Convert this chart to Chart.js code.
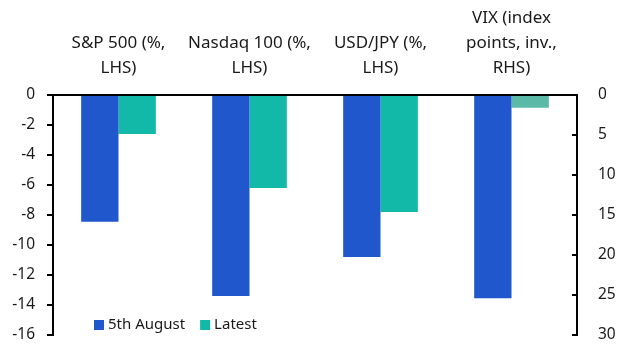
<!DOCTYPE html>
<html><head><meta charset="utf-8">
<script src="https://cdn.jsdelivr.net/npm/chart.js@4/dist/chart.umd.min.js"></script>
<style>html,body{margin:0;padding:0;background:#fff}</style>
</head><body>
<canvas id="c" width="629" height="355"></canvas>
<script>
const categories = [
  ['S&P 500 (%,', 'LHS)'],
  ['Nasdaq 100 (%,', 'LHS)'],
  ['USD/JPY (%,', 'LHS)'],
  ['VIX (index', 'points, inv.,', 'RHS)']
];
const seriesNames = ['5th August', 'Latest'];
const aug5Lhs   = [-8.45, -13.4, -10.8, null];
const latestLhs = [-2.6, -6.2, -7.8, null];
const vixAug5   = [null, null, null, 25.4];
const vixLatest = [null, null, null, 1.6];
const leftTicks = [0, -2, -4, -6, -8, -10, -12, -14, -16];
const rightTicks = [0, 5, 10, 15, 20, 25, 30];

const BLUE = '#2157cd';
const TEAL = '#12b8a8';
const TEAL2 = '#5bb9a8';
const FONT = '"Noto Sans", "Open Sans", sans-serif';
const TXT = '#1a1a1a';

const legendPlugin = {
  id: 'inLegend',
  afterDraw(chart) {
    const ctx = chart.ctx, ca = chart.chartArea;
    ctx.save();
    ctx.font = '15px ' + FONT;
    ctx.textBaseline = 'middle';
    let x = ca.left + 41;
    const y = ca.bottom - 10;
    [0, 1].forEach(i => {
      const ds = chart.data.datasets[i];
      ctx.fillStyle = ds.backgroundColor;
      ctx.fillRect(x, y - 5, 10, 10);
      x += 14;
      ctx.fillStyle = TXT;
      ctx.fillText(ds.label, x, y);
      x += ctx.measureText(ds.label).width + 15;
    });
    ctx.restore();
  }
};

function fixPad(s, w) {
  s.width = w;
  s.paddingTop = 0;
  s.paddingBottom = 0;
}

new Chart(document.getElementById('c'), {
  type: 'bar',
  data: {
    labels: categories,
    datasets: [
      { label: seriesNames[0], data: aug5Lhs, backgroundColor: BLUE, yAxisID: 'y' },
      { label: seriesNames[1], data: latestLhs, backgroundColor: TEAL, yAxisID: 'y' },
      { label: seriesNames[0] + ' (VIX)', data: vixAug5, backgroundColor: BLUE, yAxisID: 'y1' },
      { label: seriesNames[1] + ' (VIX)', data: vixLatest, backgroundColor: TEAL2, yAxisID: 'y1' }
    ]
  },
  options: {
    responsive: false,
    animation: false,
    devicePixelRatio: 1,
    skipNull: true,
    categoryPercentage: 0.57,
    barPercentage: 1.0,
    layout: { padding: { left: 0, right: 0, top: 0, bottom: 20 } },
    plugins: { legend: { display: false }, tooltip: { enabled: false } },
    scales: {
      x: {
        position: 'top',
        grid: { display: false, drawTicks: false },
        border: { display: true, color: '#000', width: 2 },
        ticks: { color: TXT, font: { family: FONT, size: 17, lineHeight: 1.47 }, padding: 14, maxRotation: 0, autoSkip: false },
        afterFit(s) { s.height = 95; s.paddingLeft = 0; s.paddingRight = 0; }
      },
      y: {
        position: 'left',
        min: -16, max: 0,
        afterBuildTicks(s) { s.ticks = leftTicks.map(v => ({ value: v })); },
        grid: { drawOnChartArea: false, drawTicks: true, tickLength: 6, color: '#000', lineWidth: 2 },
        border: { display: true, color: '#000', width: 2 },
        ticks: { color: TXT, font: { family: FONT, size: 15.5 }, padding: 12 },
        afterFit(s) { fixPad(s, 53); }
      },
      y1: {
        position: 'right',
        reverse: true,
        min: 0, max: 30,
        afterBuildTicks(s) { s.ticks = rightTicks.map(v => ({ value: v })); },
        grid: { drawOnChartArea: false, drawTicks: true, tickLength: -5, color: '#000', lineWidth: 2 },
        border: { display: true, color: '#000', width: 2 },
        ticks: { color: TXT, font: { family: FONT, size: 15.5 }, padding: 26 },
        afterFit(s) { fixPad(s, 52); }
      }
    }
  },
  plugins: [legendPlugin]
});
</script>
</body></html>
